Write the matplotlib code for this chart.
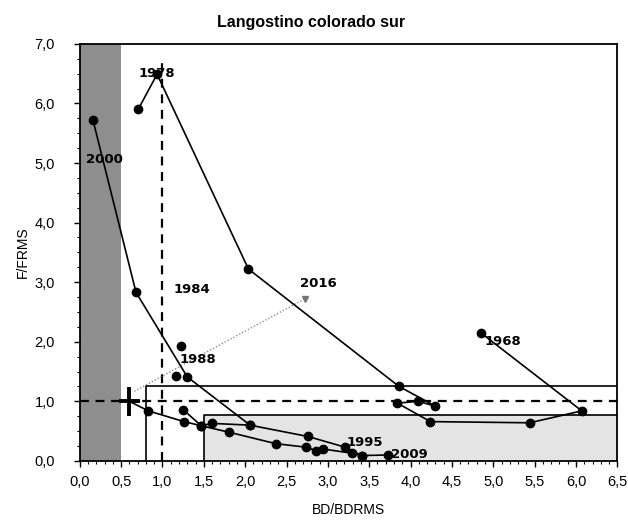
import matplotlib
matplotlib.use('Agg')
import matplotlib.pyplot as plt
from matplotlib import font_manager
from matplotlib.patches import Rectangle
from matplotlib.ticker import MultipleLocator, FuncFormatter

names = {f.name for f in font_manager.fontManager.ttflist}
narrow = 'Liberation Sans Narrow' if 'Liberation Sans Narrow' in names else 'Liberation Sans'

# trajectory pieces (BD/BDRMS, F/FRMS)
x_1968 = [4.85, 6.07, 5.44, 4.24, 3.84, 4.09, 4.30, 3.86, 2.04, 0.935, 0.71]
y_1968 = [2.15, 0.84, 0.64, 0.66, 0.97, 1.00, 0.92, 1.25, 3.22, 6.49, 5.91]

x_2000 = [0.16, 0.68, 1.30, 2.06, 2.76, 3.21, 3.41, 3.73]
y_2000 = [5.72, 2.83, 1.41, 0.60, 0.41, 0.23, 0.09, 0.10]

x_low = [0.83, 1.26, 1.47, 1.81, 2.37, 2.74, 2.86, 2.94, 3.29, 3.41]
y_low = [0.84, 0.66, 0.59, 0.48, 0.29, 0.23, 0.17, 0.20, 0.13, 0.09]

x_mid = [1.25, 1.47, 1.60, 2.06]
y_mid = [0.86, 0.59, 0.63, 0.60]

x_1988 = [1.23, 1.16]
y_1988 = [1.93, 1.42]

# 2016 estimate with its interval
x_2016, y_2016 = 0.60, 1.00
xerr_2016 = 0.13
yerr_2016 = 0.24

labels = ['1978', '2000', '1984', '1988', '2016', '1968', '1995', '2009']
label_x = [0.93, 0.30, 1.36, 1.43, 2.88, 5.12, 3.45, 3.98]
label_y = [6.50, 5.06, 2.87, 1.71, 2.97, 2.00, 0.31, 0.10]

fig = plt.figure(figsize=(6.28, 5.22), dpi=100)
ax = fig.add_axes([0.127, 0.117, 0.856, 0.799])

ax.set_xlim(0, 6.5)
ax.set_ylim(0, 7.0)

# shaded zones
ax.add_patch(Rectangle((0, 0), 0.5, 7.0, facecolor='#8e8e8e', edgecolor='none', zorder=0))
ax.add_patch(Rectangle((1.5, 0), 5.0, 0.77, facecolor='#e4e4e4', edgecolor='none', zorder=0))

# reference lines
ax.plot([1.0, 1.0], [0, 6.75], color='black', lw=1.6, ls=(0, (4, 3)), zorder=2)
ax.axhline(1.0, color='black', lw=1.6, ls=(0, (4, 3)), zorder=2)
ax.plot([0.8, 0.8, 6.5], [0, 1.25, 1.25], color='black', lw=1.2, zorder=2)
ax.plot([1.5, 1.5, 6.5], [0, 0.77, 0.77], color='black', lw=1.2, zorder=2)

# pointer to 2016
ax.plot([0.66, 2.72], [1.17, 2.72], color='#777777', lw=0.9, ls=':', zorder=2)
ax.plot([2.72], [2.72], marker='v', color='#777777', ms=5, zorder=3)

mk = dict(color='black', lw=1.2, marker='o', ms=6, zorder=4)
ax.plot(x_1968, y_1968, **mk)
ax.plot(x_2000, y_2000, **mk)
ax.plot([x_2016] + x_low[:1], [y_2016] + y_low[:1], color='black', lw=1.2, zorder=4)
ax.plot(x_low, y_low, **mk)
ax.plot(x_mid, y_mid, **mk)
ax.plot(x_1988, y_1988, ls='none', marker='o', ms=6, color='black', zorder=4)

ax.errorbar(x_2016, y_2016, xerr=xerr_2016, yerr=yerr_2016, color='black',
            lw=2.8, capsize=0, zorder=5)

for t, lx, ly in zip(labels, label_x, label_y):
    ax.text(lx, ly, t, fontsize=9.5, fontweight='bold', ha='center', va='center',
            family='DejaVu Sans', zorder=6)

ax.xaxis.set_major_locator(MultipleLocator(0.5))
ax.xaxis.set_minor_locator(MultipleLocator(0.1))
ax.yaxis.set_major_locator(MultipleLocator(1.0))
ax.yaxis.set_minor_locator(MultipleLocator(0.25))
fmt = FuncFormatter(lambda v, p: f'{v:.1f}'.replace('.', ','))
ax.xaxis.set_major_formatter(fmt)
ax.yaxis.set_major_formatter(fmt)
ax.tick_params(which='major', length=4, width=1, labelsize=10.5)
ax.tick_params(which='minor', length=2, width=0.8)
ax.tick_params(axis='x', which='major', pad=6)
ax.tick_params(axis='y', which='major', pad=14)
for lab in ax.get_xticklabels() + ax.get_yticklabels():
    lab.set_family(narrow)

for s in ax.spines.values():
    s.set_linewidth(1.3)

fig.text(311 / 628, 1 - 23 / 522, 'Langostino colorado sur', fontsize=11.5,
         fontweight='bold', family='Liberation Sans', ha='center', va='center')
ax.set_xlabel('BD/BDRMS', fontsize=10, family=narrow, labelpad=10)
ax.set_ylabel('F/FRMS', fontsize=10, family=narrow, labelpad=3)

fig.savefig('out.png', dpi=100)
